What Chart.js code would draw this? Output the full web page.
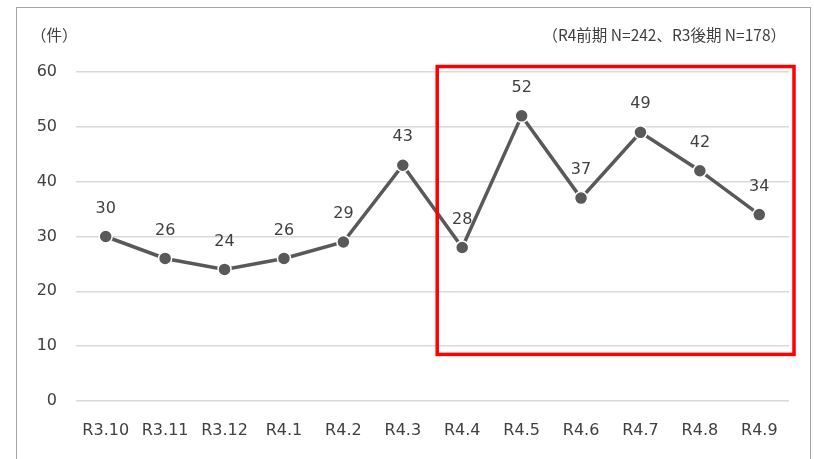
<!DOCTYPE html>
<html lang="ja">
<head>
<meta charset="utf-8">
<title>件数推移</title>
<script src="https://cdn.jsdelivr.net/npm/chart.js@4/dist/chart.umd.min.js"></script>
<style>
  html, body { margin: 0; padding: 0; background: #fff; overflow: hidden; }
  #wrap { position: relative; width: 814px; height: 459px; }
  #frame { position: absolute; left: 16px; top: 7px; width: 795px; height: 470px; border: 1px solid #a6a6a6; box-sizing: border-box; }
  #chart { position: absolute; left: 0; top: 0; }
  .note { position: absolute; top: 23px; font-family: "Noto Sans CJK JP", "DejaVu Sans", sans-serif; font-size: 15.5px; color: #404040; white-space: nowrap; }
  #unit { left: 31px; }
  #sample { right: 28px; }
</style>
</head>
<body>
<div id="wrap">
  <div id="frame"></div>
  <canvas id="chart" width="814" height="459"></canvas>
  <div class="note" id="unit">（件）</div>
  <div class="note" id="sample">（R4前期 N=242、R3後期 N=178）</div>
</div>
<script>
const months = ['R3.10', 'R3.11', 'R3.12', 'R4.1', 'R4.2', 'R4.3', 'R4.4', 'R4.5', 'R4.6', 'R4.7', 'R4.8', 'R4.9'];
const counts = [30, 26, 24, 26, 29, 43, 28, 52, 37, 49, 42, 34];
const yTicks = [0, 10, 20, 30, 40, 50, 60];

const textColor = '#404040';
const lineColor = '#595959';

// value labels above each point
const valueLabels = {
    id: 'valueLabels',
    afterDatasetsDraw(chart) {
        const ctx = chart.ctx;
        const meta = chart.getDatasetMeta(0);
        ctx.save();
        ctx.font = '16px "DejaVu Sans", sans-serif';
        ctx.fillStyle = textColor;
        ctx.textAlign = 'center';
        ctx.textBaseline = 'middle';
        meta.data.forEach((pt, i) => {
            ctx.fillText(String(counts[i]), pt.x, pt.y - 28);
        });
        ctx.restore();
    }
};

// red box around R4.4 - R4.9
const highlightBox = {
    id: 'highlightBox',
    afterDraw(chart) {
        const x = chart.scales.x, y = chart.scales.y;
        const left = x.getPixelForValue(6) - 25;
        const right = chart.chartArea.right + 5;
        const top = y.getPixelForValue(61);
        const bottom = y.getPixelForValue(8.5);
        const ctx = chart.ctx;
        ctx.save();
        ctx.strokeStyle = '#ff0000';
        ctx.lineWidth = 3.5;
        ctx.strokeRect(left, top, right - left, bottom - top);
        ctx.restore();
    }
};

new Chart(document.getElementById('chart'), {
    type: 'line',
    data: {
        labels: months,
        datasets: [{
            data: counts,
            borderColor: lineColor,
            borderWidth: 3.5,
            pointRadius: 6.5,
            pointBackgroundColor: lineColor,
            pointBorderColor: '#ffffff',
            pointBorderWidth: 1.5,
            tension: 0
        }]
    },
    options: {
        responsive: false,
        animation: false,
        layout: { padding: { left: 0, right: 25, top: 72, bottom: 0 } },
        plugins: { legend: { display: false }, tooltip: { enabled: false } },
        scales: {
            x: {
                offset: true,
                grid: { display: false },
                border: { display: false },
                ticks: { color: textColor, font: { family: 'DejaVu Sans', size: 16 }, padding: 12, maxRotation: 0 },
                afterFit(scale) { scale.height = 58; }
            },
            y: {
                min: 0,
                max: 60,
                afterBuildTicks(scale) { scale.ticks = yTicks.map(v => ({ value: v })); },
                grid: { color: '#d9d9d9', lineWidth: 1.5, drawTicks: false },
                border: { display: false },
                ticks: { color: textColor, font: { family: 'DejaVu Sans', size: 16 }, padding: 19 },
                afterFit(scale) { scale.width = 76; }
            }
        }
    },
    plugins: [valueLabels, highlightBox]
});
</script>
</body>
</html>
